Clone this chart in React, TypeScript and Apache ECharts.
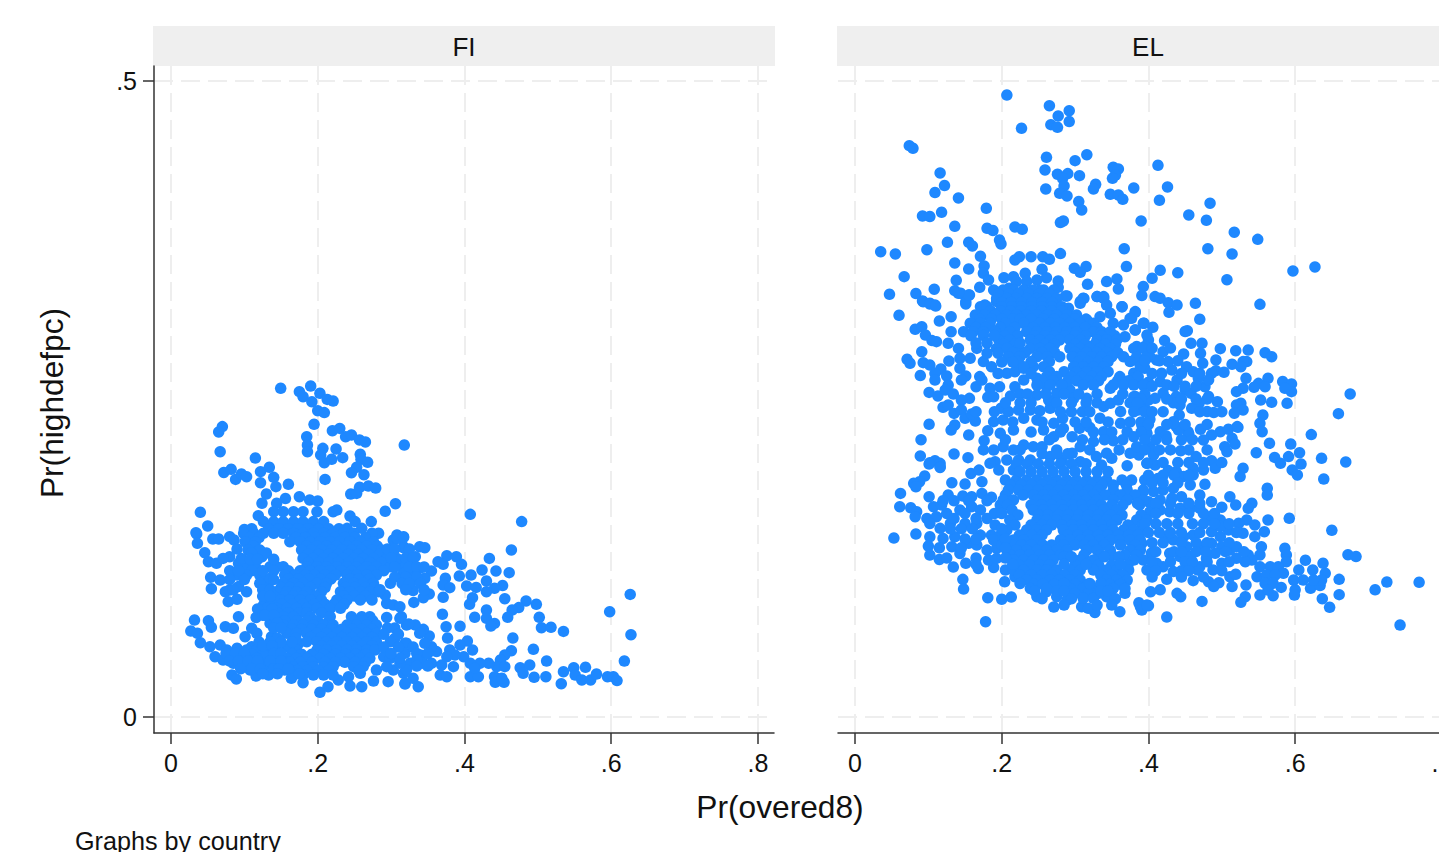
import React, { useEffect, useRef } from "react";
import * as echarts from "echarts";

const xTicks = [0, 0.2, 0.4, 0.6, 0.8];
const yTicks = [0, 0.5];
const panels = ["FI", "EL"];
const xTitle = "Pr(overed8)";
const yTitle = "Pr(highdefpc)";
const note = "Graphs by country";

// Scattered FI points: [Pr(overed8), Pr(highdefpc)]
const fiScattered: number[][] = [
[.1495,.2584],[.175,.2558],[.180,.2518],[.1904,.2602],[.203,.2545],[.213,.2497],[.221,.2484],[.192,.2479],[.200,.2408],[.209,.2393],[.195,.2301],[.070,.2283],[.065,.2241],[.067,.2086],[.115,.2036],[.220,.2251],[.230,.2269],[.238,.2204],[.246,.2217],[.257,.2178],[.265,.2162],[.185,.2204],[.186,.2138],[.186,.2086],[.207,.2112],[.204,.2060],[.225,.2107],[.209,.1999],[.219,.2026],[.234,.2039],[.258,.2065],[.259,.2026],[.268,.2002],[.253,.1963],[.246,.1921],[.263,.1905],[.210,.1868],[.072,.1923],[.082,.1947],[.088,.1868],[.096,.1910],[.103,.1889],[.122,.1929],[.134,.1963],[.140,.1884],[.122,.1842],[.160,.1829],[.143,.1811],[.130,.1753],[.156,.1717],[.175,.1732],[.257,.1806],[.269,.1816],[.279,.1800],[.245,.1753],[.253,.1758],[.318,.2138],[.306,.1677],[.292,.1617],[.040,.1609],[.050,.1502],[.034,.1449],[.057,.1399],[.065,.1399],[.080,.1418],[.086,.1391],[.100,.1475],[.273,.1536],[.244,.1580],[.124,.1680],[.119,.1583],[.144,.1680],[.189,.1706],[.200,.1698],[.221,.1614],[.226,.1627],[.283,.1444],[.274,.1444],[.308,.1431],[.317,.1418],[.303,.1391],[.251,.1536],[.260,.1483],[.240,.1483],
[.035,.1439],[.036,.1365],[.046,.1292],[.051,.1221],[.062,.1208],[.054,.1098],[.055,.1009],[.067,.1077],[.080,.1260],[.071,.1247],[.092,.1208],[.105,.1182],[.124,.1260],[.144,.1182],[.090,.1116],[.074,.0985],[.078,.0907],[.090,.0925],[.103,.0985],[.080,.0998],[.092,.1025],[.128,.1077],[.131,.1025],[.126,.0880],[.135,.1090],[.032,.0762],[.027,.0676],[.051,.0757],[.055,.0705],[.040,.0584],[.036,.0658],[.074,.0710],[.092,.0789],[.085,.0697],[.116,.0783],[.110,.0697],[.117,.0658],[.101,.0631],[.137,.0631],[.135,.0736],[.053,.0553],[.067,.0566],[.060,.0474],[.071,.0448],[.085,.0422],[.083,.0330],[.089,.0299],[.101,.0396],[.108,.0369],[.116,.0322],[.133,.0330],[.144,.0461],[.128,.0461],[.110,.0553],[.090,.0540],[.158,.0553],[.174,.0579],[.155,.0369],[.164,.0304],[.180,.0270],[.203,.0194],[.214,.0238],[.228,.0291],[.244,.0244],[.260,.0238],[.276,.0283],[.296,.0278],[.319,.0259],[.242,.0317],[.258,.0343],[.280,.0369],[.290,.0474],[.303,.0369],[.317,.0343],[.326,.0422],[.305,.0618],[.299,.0592],[.319,.0579],[.312,.0776],[.294,.0783],[.321,.0723],[.294,.0893],[.303,.0880],[.292,.0959],[.299,.1051],[.317,.1129],[.312,.1195],[.290,.1260],[.317,.1339],[.308,.1404],
[.408,.1593],[.478,.1536],[.464,.1313],[.434,.1247],[.376,.1268],[.389,.1260],[.317,.1412],[.317,.1331],[.339,.1339],[.346,.1331],[.333,.1260],[.317,.1195],[.364,.1221],[.396,.1200],[.371,.1200],[.339,.1169],[.355,.1148],[.317,.1130],[.328,.1130],[.346,.1090],[.424,.1156],[.443,.1148],[.461,.1135],[.409,.1116],[.393,.1108],[.374,.1090],[.430,.1069],[.371,.1038],[.380,.1017],[.403,.1030],[.416,.1019],[.452,.1033],[.441,.1012],[.430,.0985],[.330,.0994],[.352,.0967],[.344,.0938],[.371,.0941],[.411,.0938],[.407,.0886],[.455,.0930],[.331,.0901],[.484,.0912],[.498,.0886],[.474,.0860],[.465,.0841],[.459,.0784],[.430,.0841],[.430,.0776],[.370,.0807],[.414,.0784],[.502,.0784],[.441,.0736],[.436,.0715],[.505,.0702],[.518,.0705],[.535,.0673],[.394,.0713],[.375,.0710],[.377,.0621],[.466,.0621],[.598,.0828],[.626,.0964],[.627,.0647],[.618,.0440],[.494,.0532],[.512,.0440],[.464,.0521],[.455,.0488],[.449,.0448],[.444,.0396],[.455,.0396],[.476,.0388],[.489,.0409],[.480,.0343],[.495,.0312],[.511,.0317],[.535,.0356],[.549,.0388],[.565,.0391],[.551,.0330],[.560,.0291],[.572,.0291],[.580,.0338],[.595,.0317],[.603,.0317],[.608,.0286],[.532,.0262],[.441,.0317],[.442,.0273],[.454,.0273],[.451,.0304],[.408,.0317],[.419,.0317],[.367,.0330],[.376,.0317],[.337,.0238],[.319,.0265],[.330,.0304],[.433,.0422],[.421,.0422],[.411,.0527],[.404,.0597],[.394,.0566],[.380,.0527],[.362,.0514],[.355,.0553],[.352,.0637],[.344,.0689],[.333,.0723],[.324,.0731],[.339,.0658],[.346,.0579],[.340,.0488],[.344,.0422],[.355,.0422],[.369,.0409],[.385,.0396],[.399,.0474],[.387,.0488],[.376,.0474],[.408,.0422],[.414,.0383],[.321,.0579],[.319,.0501],[.314,.0789],[.312,.0867],[.321,.0370],[.312,.0422],
];

// Dense FI core read row by row: [Pr(highdefpc), list of Pr(overed8)]
const fiDenseRows: [number, number[]][] = [
[.1614,[.140,.153,.167,.180,.199]],
[.1536,[.126,.140,.153,.167,.180,.194,.208]],
[.1480,[.110,.133,.147,.160,.173,.187,.201,.215,.229]],
[.1444,[.099,.113,.126,.140,.153,.167,.180,.194,.208,.221,.235,.249]],
[.1411,[.107,.120,.170,.183,.197,.210,.224,.237,.251,.265]],
[.1378,[.101,.115,.162,.176,.190,.203,.217,.230,.244,.258,.276]],
[.1345,[.112,.185,.199,.212,.226,.240,.253,.267,.281]],
[.1313,[.105,.121,.178,.192,.205,.219,.233,.246,.260,.274,.287]],
[.1280,[.187,.201,.215,.228,.242,.255,.269,.285,.300]],
[.1247,[.096,.180,.194,.208,.221,.235,.249,.262,.276,.294,.308]],
[.1215,[.187,.202,.215,.228,.243,.256,.271,.287]],
[.1182,[.115,.135,.153,.185,.199,.212,.226,.240,.253,.267,.280,.299]],
[.1150,[.110,.160,.176,.190,.203,.217,.232,.246,.260,.273,.290]],
[.1116,[.103,.121,.155,.169,.183,.196,.210,.224,.240,.253,.267,.280]],
[.1085,[.160,.174,.188,.204,.218,.245,.256,.271]],
[.1051,[.121,.153,.167,.180,.199,.212,.235,.249,.262,.276]],
[.1018,[.150,.162,.175,.190,.210,.238,.251,.265,.277]],
[.0985,[.144,.158,.171,.185,.205,.231,.244,.258,.271,.283]],
[.0952,[.140,.155,.167,.180,.197,.235,.250,.265]],
[.0920,[.135,.149,.162,.176,.190,.205,.226,.240,.258,.274]],
[.0887,[.137,.151,.165,.180,.195,.210,.222,.236]],
[.0854,[.131,.144,.158,.171,.185,.199,.217,.231]],
[.0820,[.145,.160,.175,.185,.205]],
[.0789,[.153,.167,.190,.217,.246,.260,.271]],
[.0756,[.155,.172,.185,.200,.215,.248,.262,.275]],
[.0723,[.153,.167,.180,.194,.208,.221,.240,.253,.267,.280]],
[.0690,[.165,.178,.192,.205,.219,.233,.247,.260,.274]],
[.0658,[.158,.171,.185,.199,.212,.226,.240,.253,.267,.280]],
[.0625,[.190,.205,.219,.233,.247,.260,.274]],
[.0592,[.185,.199,.212,.226,.240,.253,.267,.280]],
[.0560,[.205,.219,.233,.247,.260,.274]],
[.0527,[.076,.103,.117,.131,.144,.171,.199,.212,.226,.240,.253,.267,.278]],
[.0494,[.110,.125,.165,.178,.192,.208,.224,.238,.252,.265]],
[.0461,[.103,.117,.158,.171,.185,.203,.217,.231,.244,.258,.271,.299,.312]],
[.0430,[.132,.147,.162,.176,.192,.210,.224,.237,.251,.265]],
[.0396,[.126,.140,.153,.167,.180,.194,.208,.221,.249,.262,.294]],
[.0365,[.172,.186,.201,.215,.256]],
[.0330,[.167,.180,.194,.208,.221]],
// second pass: bands that were still too thin
[.1320,[.090,.295,.305,.325]],
[.1290,[.110,.130]],
[.1250,[.300,.320,.330]],
[.1240,[.108,.118,.140]],
[.1180,[.305,.325,.335,.345]],
[.1150,[.080,.092,.125,.140]],
[.1100,[.305,.320,.335]],
[.1080,[.080,.100,.140]],
[.1050,[.315,.325,.340]],
[.1000,[.085,.125,.135,.285,.320,.345]],
[.0950,[.125,.135]],
[.0850,[.118,.138]],
[.0800,[.125,.128,.140]],
[.0740,[.145]],
[.0700,[.140,.150,.295,.305]],
[.0650,[.290,.310]],
[.0620,[.145,.170]],
[.0590,[.120,.135,.150,.165]],
[.0560,[.125,.138]],
[.0550,[.290,.310,.330]],
[.0500,[.075,.088,.100,.140,.150,.300,.335,.350]],
[.0450,[.335]],
[.0440,[.080,.092,.105,.118,.135,.150]],
[.0400,[.335,.350]],
[.0380,[.095,.110,.122,.140,.147,.160]],
[.0340,[.125,.145,.175]],
];

// Scattered EL points
const elScattered: number[][] = [
[.207,.4890],[.265,.4806],[.292,.4767],[.277,.4725],[.292,.4681],[.267,.4657],[.276,.4636],[.227,.4628],[.074,.4492],[.079,.4471],[.261,.4400],[.316,.4421],[.300,.4374],[.352,.4322],[.359,.4309],[.413,.4337],[.259,.4301],[.276,.4267],[.290,.4272],[.306,.4256],[.355,.4261],[.351,.4235],[.116,.4277],[.122,.4178],[.109,.4123],[.141,.4081],[.283,.4235],[.285,.4175],[.328,.4188],[.325,.4151],[.260,.4151],[.279,.4117],[.289,.4096],[.348,.4109],[.359,.4104],[.365,.4070],[.380,.4159],[.426,.4167],[.415,.4062],[.305,.4052],[.309,.3986],[.179,.3999],[.092,.3939],[.102,.3934],[.118,.3968],[.136,.3858],[.180,.3842],[.188,.3824],[.218,.3853],[.228,.3834],[.280,.3887],[.284,.3900],[.390,.3900],[.197,.3750],[.199,.3719],[.126,.3732],[.155,.3732],[.160,.3703],[.098,.3674],[.035,.3658],[.055,.3640],[.367,.3682],[.171,.3622],[.136,.3570],[.155,.3522],[.176,.3546],[.218,.3593],[.224,.3619],[.240,.3619],[.256,.3619],[.265,.3598],[.280,.3643],[.315,.3541],[.299,.3528],[.307,.3496],[.370,.3541],[.416,.3512],[.067,.3462],[.175,.3488],[.182,.3436],[.138,.3433],[.203,.3454],[.216,.3462],[.232,.3488],[.255,.3520],[.261,.3454],[.277,.3428],[.277,.3378],[.317,.3402],[.343,.3423],[.357,.3444],[.359,.3365],[.405,.3449],[.393,.3384],[.391,.3313],[.409,.3305],[.416,.3292],[.108,.3363],[.136,.3352],[.144,.3331],[.156,.3318],[.170,.3378],[.047,.3323],[.083,.3329],[.092,.3271],[.102,.3253],[.109,.3240],[.151,.3266],[.177,.3240],[.192,.3344],[.210,.3370],[.289,.3310],[.311,.3292],[.330,.3305],[.339,.3305],[.307,.3266],[.364,.3226],[.220,.3423],[.234,.3423],[.248,.3436],[.193,.3266],[.211,.3292],[.225,.3331],[.239,.3344],[.252,.3357],[.266,.3292],[.234,.3266],[.252,.3266],[.270,.3253],
[.484,.4039],[.455,.3947],[.479,.3905],[.517,.3811],[.549,.3755],[.481,.3682],[.514,.3640],[.440,.3493],[.507,.3438],[.597,.3507],[.627,.3538],[.552,.3244],[.427,.3257],[.439,.3239],[.428,.3182],[.464,.3252],[.470,.3127],[.382,.3182],[.377,.3134],[.394,.3095],[.406,.3064],[.453,.3037],[.450,.3030],[.422,.2959],[.400,.2964],[.382,.3043],[.458,.2938],[.473,.2938],[.498,.2896],[.519,.2880],[.536,.2885],[.559,.2864],[.568,.2833],[.448,.2854],[.471,.2859],[.474,.2781],[.492,.2807],[.534,.2794],[.529,.2794],[.514,.2773],[.526,.2754],[.452,.2754],[.492,.2723],[.503,.2710],[.486,.2702],[.461,.2715],[.533,.2663],[.563,.2663],[.583,.2637],[.595,.2618],[.595,.2558],[.586,.2584],[.550,.2623],[.544,.2592],[.559,.2597],[.529,.2584],[.520,.2558],[.553,.2492],[.568,.2474],[.589,.2466],[.675,.2540],[.659,.2385],[.556,.2374],[.552,.2309],[.526,.2466],[.520,.2453],[.529,.2414],[.517,.2388],[.482,.2519],[.494,.2479],[.477,.2597],[.482,.2650],[.468,.2663],[.480,.2401],[.489,.2393],[.469,.2466],[.459,.2427],[.450,.2571],[.458,.2545],[.438,.2519],[.434,.2471],[.443,.2453],[.442,.2374],[.434,.2322],[.420,.2545],[.409,.2505],[.402,.2340],[.391,.2296],[.395,.2427],[.386,.2414],[.382,.2519],[.416,.2243],[.400,.2631],[.386,.2650],[.416,.2636],[.425,.2610],[.439,.2650],[.418,.2702],[.432,.2728],[.427,.2794],[.420,.2872],[.411,.2807],[.402,.2833],[.393,.2754],[.382,.2807],[.384,.2912],[.380,.2702],[.395,.2912],[.454,.2243],[.471,.2262],[.498,.2243],[.509,.2262],[.521,.2283],[.438,.2283],
[.622,.2220],[.594,.2146],[.565,.2152],[.547,.2078],[.606,.2078],[.591,.2047],[.572,.2041],[.580,.1994],[.608,.1989],[.636,.2034],[.669,.2005],[.596,.1942],[.603,.1903],[.639,.1871],[.529,.1955],[.525,.1890],[.555,.2243],[.522,.2277],[.486,.2217],[.475,.2178],[.514,.2191],[.518,.2146],[.504,.2125],[.507,.2086],[.455,.2225],[.441,.2256],[.434,.2309],[.424,.2212],[.397,.2243],[.444,.2094],[.465,.2047],[.486,.2015],[.491,.1955],[.475,.1942],[.461,.1955],[.461,.1903],[.402,.2125],[.407,.2060],[.398,.1994],[.409,.1981],[.427,.1937],[.438,.1929],[.448,.1890],[.413,.1876],[.395,.1863],[.477,.1829],[.457,.1824],[.470,.1745],[.511,.1732],[.519,.1667],[.541,.1680],[.536,.1641],[.562,.1798],[.562,.1745],[.486,.1693],[.500,.1649],[.457,.1641],[.470,.1641],[.434,.1798],[.420,.1785],[.407,.1772],[.393,.1772],[.445,.1732],[.432,.1719],[.416,.1706],[.400,.1693],[.443,.1641],[.429,.1614],[.416,.1627],[.402,.1614],[.391,.1575],[.484,.1575],[.498,.1549],[.563,.1549],[.592,.1562],[.650,.1468],[.534,.1549],[.523,.1523],[.545,.1510],[.558,.1457],[.529,.1444],[.545,.1418],[.554,.1339],[.552,.1274],[.541,.1234],[.586,.1326],[.588,.1274],[.588,.1221],[.614,.1232],[.638,.1208],[.624,.1156],[.672,.1276],[.683,.1261],[.536,.1274],[.532,.1221],[.520,.1248],[.511,.1313],[.520,.1339],[.498,.1418],[.509,.1470],[.486,.1457],[.498,.1497],[.486,.1365],[.500,.1339],[.491,.1287],[.479,.1248],[.470,.1182],[.488,.1156],[.500,.1208],[.470,.1339],[.461,.1431],[.448,.1418],[.452,.1339],[.443,.1261],[.429,.1287],[.423,.1405],[.434,.1392],[.457,.1261],[.434,.1143],[.420,.1182],[.425,.1082],[.411,.1208],[.404,.1287],[.398,.1156],[.393,.1234],[.391,.1365],[.461,.1072],[.482,.1064],[.496,.1056],[.489,.1025],[.511,.1103],[.519,.1122],[.514,.1025],[.533,.1038],[.467,.1156],[.416,.1000],[.403,.0985],[.439,.0972],[.444,.0946],[.473,.0909],[.532,.0946],[.526,.0902],[.389,.0868],[.400,.0875],[.425,.0786],[.552,.0959],[.570,.0954],[.581,.1019],[.566,.1182],[.552,.1182],[.577,.1182],[.584,.1130],[.548,.1103],[.561,.1117],[.573,.1117],[.559,.1051],[.570,.1051],[.563,.0999],[.605,.1156],[.598,.1077],[.611,.1077],[.600,.1000],[.599,.0959],[.621,.1012],[.634,.1033],[.641,.1130],[.636,.1077],[.625,.1077],[.660,.1082],[.660,.0962],[.637,.0930],[.647,.0862],[.709,.1000],[.725,.1061],[.769,.1059],[.743,.0723],
[.093,.3265],[.102,.3247],[.110,.3231],[.060,.3158],[.115,.3113],[.131,.3147],[.151,.3247],[.155,.3318],[.141,.3331],[.082,.3048],[.091,.3069],[.096,.3003],[.105,.2959],[.111,.2951],[.131,.3029],[.127,.2938],[.141,.2898],[.091,.2872],[.071,.2812],[.075,.2781],[.093,.2786],[.102,.2767],[.089,.2684],[.128,.2799],[.117,.2736],[.109,.2702],[.109,.2649],[.125,.2681],[.127,.2610],[.166,.2898],[.143,.2820],[.157,.2820],[.175,.2794],[.186,.2754],[.143,.2741],[.151,.2681],[.145,.2649],[.170,.2676],[.165,.2597],[.173,.2649],[.101,.2552],[.113,.2524],[.123,.2571],[.134,.2539],[.184,.2584],[.197,.2597],[.181,.2513],[.189,.2518],[.207,.2702],[.218,.2715],[.212,.2524],[.218,.2597],[.230,.2649],[.248,.2663],[.248,.2532],[.261,.2597],[.275,.2545],[.293,.2571],[.298,.2505],[.316,.2505],[.282,.2610],[.270,.2676],[.243,.2754],[.230,.2741],[.156,.2505],[.145,.2492],[.120,.2435],[.127,.2453],[.135,.2387],[.145,.2414],[.150,.2348],[.164,.2327],[.159,.2382],[.136,.2296],[.131,.2256],[.101,.2301],[.155,.2217],[.090,.2180],[.089,.2052],[.135,.2068],[.154,.2039],[.102,.1999],[.109,.2015],[.116,.1994],[.116,.1968],[.189,.2322],[.181,.2251],[.176,.2172],[.202,.2335],[.198,.2230],[.199,.2427],[.209,.2401],[.223,.2414],[.239,.2414],[.252,.2408],[.266,.2427],[.264,.2492],[.216,.2256],[.230,.2348],[.248,.2335],[.257,.2256],[.271,.2309],[.283,.2348],[.284,.2269],[.271,.2204],[.296,.2204],[.307,.2125],[.325,.2165],[.306,.2269],[.320,.2277],[.230,.2138],[.243,.2125],[.216,.2099],[.202,.2125],[.189,.2099],[.191,.2007],[.207,.2021],[.223,.2021],[.239,.2021],[.255,.2125],[.266,.2047],[.282,.2021],[.296,.2073],[.307,.2007],[.329,.2047],[.343,.2073],[.350,.2034],[.336,.1981],[.371,.1976],[.398,.1994],[.375,.2073],[.387,.2060],[.352,.2172],[.339,.2243],[.334,.2348],[.339,.2440],[.348,.2466],[.359,.2492],[.362,.2401],[.362,.2309],[.371,.2243],[.380,.2204],[.393,.2296],[.398,.2230],[.384,.2125],[.348,.2584],[.361,.2663],[.380,.2663],[.395,.2741],[.380,.2518],[.389,.2427],[.400,.2492],
[.287,.3310],[.312,.3291],[.307,.3252],[.330,.3305],[.339,.3291],[.343,.3239],[.291,.3213],[.316,.3121],[.334,.3147],[.348,.3174],[.364,.3226],[.382,.3187],[.375,.3134],[.352,.3095],[.366,.3082],[.393,.3095],[.368,.2990],[.382,.3043],[.398,.3003],
[.101,.1989],[.116,.1962],[.095,.1894],[.088,.1850],[.080,.1837],[.083,.1810],[.132,.1842],[.150,.1831],[.158,.1915],[.169,.1941],[.173,.1850],[.184,.1994],[.196,.1941],[.216,.1941],[.062,.1758],[.061,.1653],[.101,.1732],[.107,.1653],[.118,.1666],[.127,.1745],[.147,.1737],[.159,.1732],[.173,.1758],[.186,.1727],[.198,.1666],[.076,.1645],[.084,.1614],[.082,.1575],[.098,.1561],[.111,.1575],[.053,.1407],[.083,.1438],[.102,.1522],[.116,.1483],[.102,.1417],[.100,.1344],[.102,.1273],[.115,.1239],[.130,.1522],[.143,.1627],[.159,.1653],[.171,.1627],[.136,.1417],[.120,.1404],[.132,.1339],[.143,.1286],[.151,.1208],[.134,.1179],[.168,.1168],[.189,.1176],[.150,.1522],[.166,.1522],[.180,.1561],[.191,.1509],[.171,.1430],[.186,.1430],[.155,.1365],[.166,.1352],[.180,.1312],[.193,.1325],[.182,.1234],[.193,.1247],[.205,.1155],[.218,.1103],[.204,.1063],[.147,.1082],[.148,.1006],[.181,.0938],[.200,.0925],[.213,.0943],[.178,.0749],[.248,.0946],[.271,.0864],[.289,.0919],[.261,.0985],[.275,.0946],[.309,.0867],[.327,.0822],[.318,.0854],[.343,.0946],[.368,.0972],[.361,.0828],[.387,.0898],[.391,.0841],[.398,.0880],
];

// Dense EL regions read row by row: [Pr(highdefpc), list of Pr(overed8)]
const elDenseRows: [number, number[]][] = [
[.3357,[.189,.202,.216,.230,.243,.257,.271]],
[.3325,[.196,.210,.223,.237,.251,.265]],
[.3291,[.193,.207,.220,.234,.248,.262,.275]],
[.3258,[.200,.213,.227,.241,.255,.269]],
[.3226,[.171,.180,.200,.214,.227,.241,.255,.268,.282]],
[.3193,[.185,.198,.212,.226,.240,.254,.268,.282]],
[.3160,[.164,.177,.191,.207,.220,.234,.248,.262,.275,.289,.302]],
[.3128,[.170,.186,.200,.215,.225,.240,.257,.272,.286,.300,.315]],
[.3095,[.157,.171,.184,.205,.230,.252,.266,.279,.293,.307,.325]],
[.3062,[.165,.178,.198,.218,.243,.259,.273,.286,.300,.314,.330]],
[.3029,[.148,.161,.175,.191,.211,.234,.248,.262,.275,.289,.302,.325,.336,.348]],
[.2997,[.158,.204,.222,.245,.259,.272,.286,.300,.314,.336,.354]],
[.2964,[.196,.211,.239,.252,.266,.279,.293,.307,.330,.343,.357]],
[.2931,[.203,.218,.245,.259,.272,.300,.314,.327,.341,.355]],
[.2898,[.193,.207,.223,.239,.252,.266,.293,.307,.320,.334,.348,.380,.393]],
[.2866,[.215,.232,.255,.272,.300,.316,.330,.343,.358]],
[.2833,[.209,.225,.248,.262,.279,.296,.309,.323,.336,.350,.366,.384,.398]],
[.2794,[.222,.240,.265,.305,.318,.332,.345,.375]],
[.2754,[.230,.257,.298,.311,.325,.339,.389]],
[.2715,[.265,.285,.302,.316,.330,.345]],
[.2676,[.261,.275,.295,.309,.323,.336,.361,.386]],
[.2643,[.255,.270,.290,.302,.318,.332,.358,.373]],
[.2610,[.248,.266,.282,.311,.325,.352,.366,.380,.393]],
[.1863,[.205,.220,.234,.248,.262,.275,.289,.302,.316,.330,.343,.364,.377]],
[.1824,[.212,.227,.241,.255,.269,.282,.296,.310,.323,.337,.352,.370]],
[.1784,[.209,.223,.236,.250,.264,.277,.291,.305,.318,.332,.352,.371,.393]],
[.1745,[.205,.229,.243,.257,.270,.284,.298,.311,.325,.341,.362,.382]],
[.1706,[.202,.216,.248,.261,.275,.289,.302,.316,.330,.352,.371,.393]],
[.1667,[.208,.240,.254,.268,.282,.296,.309,.323,.336,.350,.365,.388]],
[.1627,[.214,.243,.257,.270,.284,.298,.311,.325,.339,.357]],
[.1588,[.222,.250,.263,.277,.291,.305,.318,.332,.348,.364,.390]],
[.1548,[.211,.248,.261,.275,.289,.302,.316,.330,.343,.357,.384,.398]],
[.1509,[.218,.240,.255,.268,.282,.296,.309,.323,.336,.350,.372,.392]],
[.1470,[.207,.234,.248,.261,.284,.298,.311,.325,.339,.352,.366,.380,.393]],
[.1430,[.198,.224,.241,.255,.290,.304,.318,.332,.345,.359,.373,.386]],
[.1391,[.189,.202,.216,.230,.248,.280,.293,.307,.320,.334,.348,.361,.375,.389]],
[.1352,[.200,.214,.227,.240,.256,.268,.284,.300,.313,.325,.340,.362,.382]],
[.1312,[.207,.220,.234,.248,.261,.275,.289,.316,.330,.348,.375,.389]],
[.1273,[.212,.225,.238,.252,.265,.280,.312,.335,.350,.368,.384]],
[.1234,[.216,.230,.243,.257,.270,.307,.325,.380]],
[.1195,[.223,.238,.252,.265,.300,.332,.350,.372]],
[.1155,[.216,.230,.248,.261,.275,.293,.307,.325,.343,.357,.373]],
[.1116,[.224,.240,.255,.268,.286,.300,.335,.350,.365]],
[.1077,[.234,.248,.266,.279,.293,.307,.343,.357,.371]],
[.1044,[.244,.256,.272,.286,.300,.318,.347,.362]],
[.1011,[.239,.261,.293,.311,.325,.352,.368]],
[.0972,[.300,.318,.332]],
[.0933,[.311,.325]],
// second pass: regions that were still too thin
[.3000,[.175,.190]],
[.2940,[.165,.180,.225]],
[.2900,[.405,.430]],
[.2860,[.180,.195]],
[.2800,[.395,.415,.440]],
[.2790,[.200,.215]],
[.2700,[.195,.240,.405,.445,.470]],
[.2600,[.405,.435,.450,.465]],
[.2540,[.225,.235,.260,.285,.305,.330,.365,.395]],
[.2500,[.390,.425,.445,.465,.480]],
[.2470,[.205,.225,.240,.275,.295,.315,.330,.375,.385]],
[.2400,[.165,.190,.280,.295,.310,.320,.380,.395,.405,.420,.470,.500]],
[.2320,[.215,.255,.300,.315,.345,.375,.390]],
[.2300,[.400,.425,.450,.480]],
[.2240,[.240,.280,.325,.350,.390]],
[.2180,[.205,.265,.310,.340,.365,.395,.410,.425,.445,.460]],
[.2100,[.175,.225,.275,.320,.360,.395,.415,.430,.455,.480]],
[.2070,[.255,.275,.290]],
[.2000,[.420,.440,.455,.475,.500]],
[.1990,[.220,.235,.250,.265,.280,.295,.315]],
[.1930,[.225,.240,.255,.270,.285,.300,.315,.330,.345]],
[.1900,[.400,.420,.435,.455]],
[.1840,[.405,.420,.440]],
[.1700,[.120,.135,.155,.180]],
[.1680,[.385,.410,.430,.455,.470]],
[.1600,[.125,.150,.190,.200,.410,.440,.455,.475,.490]],
[.1560,[.135,.165]],
[.1520,[.395,.410,.425,.440,.460,.475,.490,.510]],
[.1480,[.130,.145,.160,.200]],
[.1450,[.400,.415,.430,.445,.470,.520]],
[.1400,[.150,.165,.205]],
[.1370,[.405,.420,.445,.465,.480,.510]],
[.1330,[.115,.145,.205]],
[.1300,[.410,.435,.445,.465,.478,.505,.530]],
[.1260,[.285,.295,.340,.360]],
[.1250,[.125,.165,.205]],
[.1220,[.405,.430,.450,.460,.480,.510]],
[.1200,[.165,.215,.285,.315,.362]],
[.1150,[.410,.445,.455,.500]],
[.1100,[.405,.445,.475]],
[.1050,[.225,.285,.320,.335]],
[.0990,[.245,.275,.285,.335,.345]],
[.0930,[.255,.295,.355]],
[.0880,[.285,.330,.350]],
];

const fromRows = (rows: [number, number[]][]) => rows.flatMap(([y, xs]) => xs.map((x) => [x, y]));
const fiData = [...fiScattered, ...fromRows(fiDenseRows)];
const elData = [...elScattered, ...fromRows(elDenseRows)];

const dotBlue = "#1e88ff";
const axisDark = "#333333";
const font = "'Liberation Sans', Arial, sans-serif";
const stripLefts = [153, 837];
const gridLefts = [154, 838];
const fmt = (v: number) => String(Number(v)).replace(/^0\./, ".");

export default function App() {
  const ref = useRef<HTMLDivElement>(null);
  useEffect(() => {
    const chart = echarts.init(ref.current!, undefined, { renderer: "svg" });
    const grid = gridLefts.map((left) => ({ left, top: 66, width: 620, height: 667 }));
    const splitLine = { show: true, lineStyle: { color: "#eeeeee", width: 2, type: [19, 8] as number[] } };
    chart.setOption({
      animation: false,
      backgroundColor: "#ffffff",
      grid,
      xAxis: gridLefts.map((_, i) => ({
        type: "value", gridIndex: i, min: -0.0232, max: 0.822,
        axisLine: { show: true, onZero: false, lineStyle: { color: axisDark, width: 1.5 } },
        axisTick: { show: true, length: 11, customValues: xTicks, lineStyle: { color: axisDark, width: 1.5 } },
        axisLabel: { show: true, customValues: xTicks, formatter: fmt, fontFamily: font, fontSize: 25, color: "#111", margin: 17 },
        splitLine,
      })),
      yAxis: gridLefts.map((_, i) => ({
        type: "value", gridIndex: i, min: -0.01258, max: 0.5118,
        axisLine: { show: i === 0, onZero: false, lineStyle: { color: axisDark, width: 1.5 } },
        axisTick: { show: i === 0, length: 11, customValues: yTicks, lineStyle: { color: axisDark, width: 1.5 } },
        axisLabel: { show: i === 0, customValues: yTicks, formatter: fmt, fontFamily: font, fontSize: 25, color: "#111", margin: 17 },
        splitLine,
      })),
      series: [fiData, elData].map((data, i) => ({
        type: "scatter", name: panels[i], xAxisIndex: i, yAxisIndex: i, data,
        symbol: "circle", symbolSize: 11.5, silent: true,
        itemStyle: { color: dotBlue, opacity: 1 },
      })),
      graphic: [
        ...stripLefts.map((left) => ({ type: "rect", x: left, y: 26, z: -1, silent: true, shape: { x: 0, y: 0, width: 622, height: 40 }, style: { fill: "#efefef" } })),
        ...panels.map((p, i) => ({ type: "text", x: stripLefts[i] + 311, y: 47, silent: true, style: { text: p, font: `26px ${font}`, fill: "#111", textAlign: "center", textVerticalAlign: "middle" } })),
        { type: "text", x: 780, y: 807, silent: true, style: { text: xTitle, font: `31.7px ${font}`, fill: "#111", textAlign: "center", textVerticalAlign: "middle" } },
        { type: "text", x: 52, y: 403, rotation: Math.PI / 2, silent: true, style: { text: yTitle, font: `31.7px ${font}`, fill: "#111", textAlign: "center", textVerticalAlign: "middle" } },
        { type: "text", x: 75, y: 841, silent: true, style: { text: note, font: `25.2px ${font}`, fill: "#111", textAlign: "left", textVerticalAlign: "middle" } },
      ],
    });
    return () => chart.dispose();
  }, []);
  return (
    <div style={{ position: "absolute", left: 0, top: 0, width: 1439, height: 852, overflow: "hidden" }}>
      <div ref={ref} style={{ width: 1480, height: 852 }} />
    </div>
  );
}
